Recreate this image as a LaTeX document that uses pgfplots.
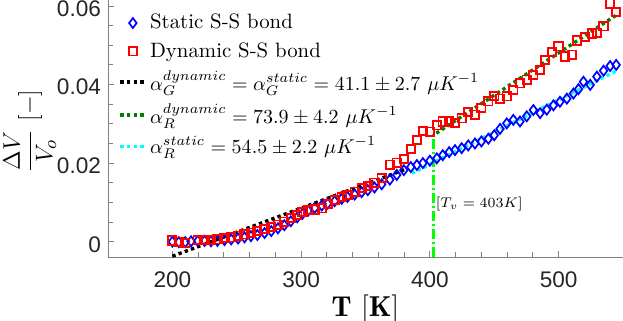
\documentclass[border=0pt]{standalone}
\usepackage{fontspec}
\usepackage{pgfplots}
\pgfplotsset{compat=1.18}
\newfontfamily\ticksfont{Liberation Sans}
\definecolor{mblue}{rgb}{0,0,1}
\definecolor{mred}{rgb}{1,0,0}
\definecolor{mgreen}{rgb}{0,0.5,0}
\definecolor{mcyan}{rgb}{0,1,1}
\definecolor{lgreen}{rgb}{0,1,0}
\pgfplotsset{
  markleg/.style={legend image code/.code={\draw[##1] plot coordinates {(6.25pt,0pt)};}},
  lineleg/.style={legend image code/.code={\draw[##1] (0pt,0pt) -- (12.5pt,0pt);}},
}

\pgfplotstableread{
T V
200 0.0000
205 -0.0001
210 -0.0001
214.5 0.0001
219.7 0.0002
225 0.0002
230 0.0001
235 0.0002
240.5 0.0004
245.7 0.0006
251 0.0008
256 0.0011
261 0.0014
266 0.0017
271.6 0.0022
276.8 0.0027
282 0.0034
287 0.0042
292 0.0052
297 0.0062
301 0.0071
305.5 0.0079
310.5 0.0086
316 0.0092
320.6 0.0097
326 0.0103
331.5 0.0109
336 0.0114
341.6 0.0120
347 0.0126
351.8 0.0131
357 0.0138
362.6 0.0146
368.9 0.0158
374.3 0.0170
379.8 0.0182
385.2 0.0190
389.9 0.0195
394.6 0.0200
400 0.0206
405.4 0.0212
410 0.0220
415 0.0228
419.5 0.0233
424.7 0.0238
429.8 0.0245
435 0.0250
440 0.0255
445.4 0.0262
450 0.0271
454.5 0.0287
459.7 0.0301
464.8 0.0310
470 0.0306
475.2 0.0319
480.4 0.0335
485.6 0.0327
490.8 0.0336
496 0.0347
501 0.0356
506.4 0.0364
511.5 0.0377
515.4 0.0388
519.3 0.0407
524.5 0.0399
529.7 0.0420
534.9 0.0435
540 0.0447
544.7 0.0450
}\staticdata

\pgfplotstableread{
T V
200 0.0003
205 0.0000
210 -0.0003
219.7 0.0004
225 0.0004
230 0.0004
235 0.0006
240.5 0.0009
245.7 0.0011
251 0.0015
256 0.0019
261 0.0023
266 0.0027
271.6 0.0032
276.8 0.0037
282 0.0043
287 0.0051
292 0.0060
297 0.0068
301 0.0076
305.5 0.0081
310.5 0.0082
316 0.0085
320.6 0.0096
326 0.0106
331.5 0.0114
336 0.0119
341.6 0.0127
347 0.0137
351.8 0.0142
357 0.0150
362.6 0.0162
368.9 0.0196
374.3 0.0201
379.8 0.0210
385.2 0.0236
389.9 0.0259
394.6 0.0282
400 0.0280
405.4 0.0296
410 0.0306
415 0.0306
419.5 0.0302
424.7 0.0314
429.8 0.0330
435 0.0323
440 0.0340
445.4 0.0357
450 0.0371
454.5 0.0364
459.7 0.0370
464.8 0.0386
470 0.0403
475.2 0.0412
480.4 0.0424
485.6 0.0437
489.5 0.0462
494.7 0.0483
499.9 0.0497
505 0.0471
510.5 0.0476
514.2 0.0512
520.6 0.0521
525.8 0.0530
529.7 0.0532
534.9 0.0548
540 0.0606
544.7 0.0584
}\dynamicdata

\begin{document}
\begin{tikzpicture}
\begin{axis}[
  scale only axis, width=257.5pt, height=128.5pt,
  xmin=150, xmax=550, ymin=-0.0039, ymax=0.0615,
  axis x line*=bottom, axis y line*=left,
  axis line style={black!50, line width=0.4pt, -},
  xtick={200,300,400,500}, minor x tick num=4,
  ytick={0,0.02,0.04,0.06}, minor y tick num=3,
  tick align=inside, major tick length=3pt, minor tick length=2.5pt,
  tick style={black!50, line width=0.4pt},
  ticklabel style={font=\fontsize{11.3}{13}\ticksfont, text=black!85},
  /pgf/number format/assume math mode=true,
  scaled y ticks=false,
  yticklabel style={/pgf/number format/fixed, /pgf/number format/precision=2, yshift=-1.3pt},
  xticklabel style={yshift=-4pt},
  xlabel={$\mathbf{T}\ [\mathbf{K}]$},
  xlabel style={at={(axis description cs:0.5,-0.202)}, anchor=center, font=\fontsize{14.4}{16}\selectfont},
  ylabel={$\displaystyle\frac{\Delta V}{V_o}\ [-]$},
  ylabel style={at={(axis description cs:-0.152,0.49)}, anchor=center, font=\fontsize{12.5}{14}\selectfont},
  legend style={at={(axis description cs:0.02,0.958)}, anchor=north west, draw=none, fill=none,
    font=\fontsize{10.4}{12}\selectfont, row sep=2.3pt, inner sep=0pt, nodes={inner sep=1.5pt}},
  legend cell align=left,
]
\addplot[only marks, mblue, mark=diamond, mark size=2.5pt, mark options={line width=0.85pt}, markleg] table {\staticdata};
\addlegendentry{Static S-S bond}
\addplot[only marks, mred, mark=square, mark size=2.1pt, mark options={line width=0.9pt}, markleg] table {\dynamicdata};
\addlegendentry{Dynamic S-S bond}
\addplot[black, line width=1.7pt, dash pattern=on 1.7pt off 1.6pt, lineleg] coordinates {(200,-0.0037) (380,0.0183)};
\addlegendentry{$\alpha_G^{dynamic} = \alpha_G^{static} = 41.1 \pm 2.7\ \mu K^{-1}$}
\addplot[mgreen, line width=1.7pt, dash pattern=on 1.7pt off 1.6pt, lineleg] coordinates {(405,0.0276) (545,0.0577)};
\addlegendentry{$\alpha_R^{dynamic} = 73.9 \pm 4.2\ \mu K^{-1}$}
\addplot[mcyan, line width=1.7pt, dash pattern=on 1.7pt off 1.6pt, lineleg] coordinates {(386,0.0174) (545,0.0435)};
\addlegendentry{$\alpha_R^{static} = 54.5 \pm 2.2\ \mu K^{-1}$}
\addplot[lgreen, line width=1.5pt, dash pattern=on 5pt off 1.5pt on 1pt off 1.5pt, forget plot]
  coordinates {(403,-0.0039) (403,0.0280)};
\node[anchor=west, font=\fontsize{6.8}{8}\selectfont, inner sep=0.5pt] at (axis cs:403.5,0.0097) {$[T_v = 403K]$};
\end{axis}
\pgfresetboundingbox
\path[use as bounding box] ([shift={(-54pt,-31.5pt)}]current axis.south west) rectangle (current axis.north east);
\end{tikzpicture}
\end{document}
